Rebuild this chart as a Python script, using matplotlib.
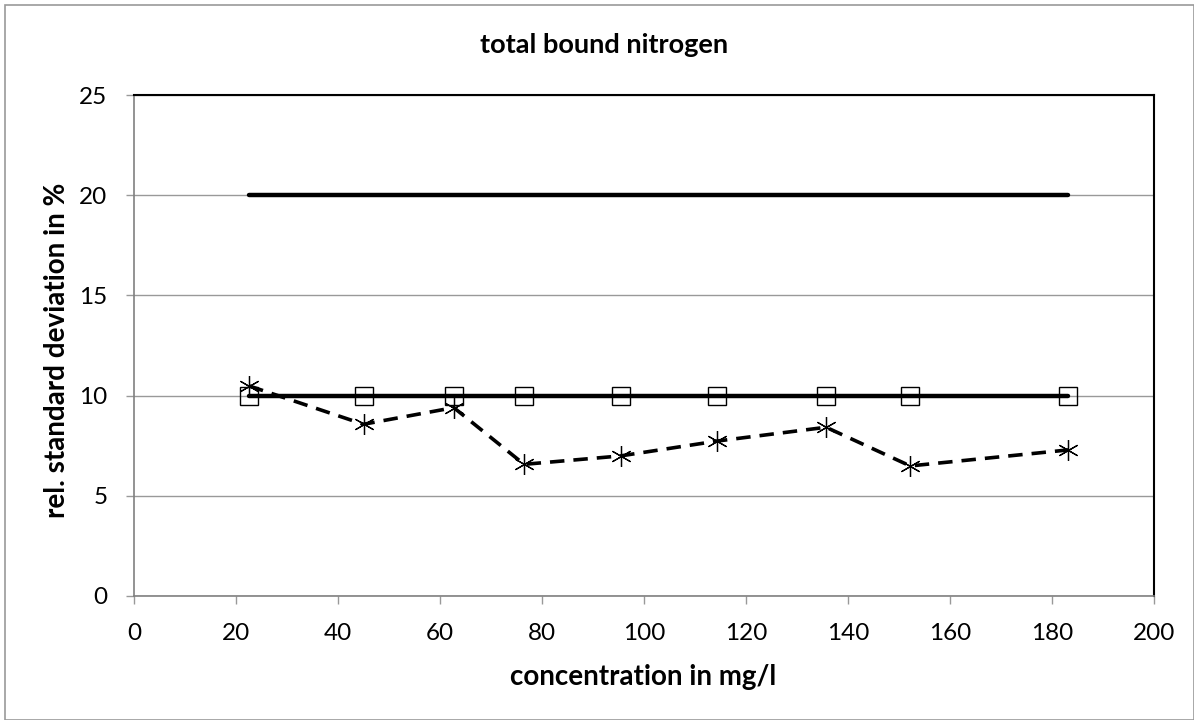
import matplotlib
matplotlib.use("Agg")
import matplotlib.pyplot as plt
from matplotlib.patches import Rectangle

conc = [22.6, 45.0, 62.7, 76.5, 95.4, 114.3, 135.7, 152.2, 183.2]
rsd_measured = [10.48, 8.57, 9.4, 6.57, 6.99, 7.73, 8.42, 6.49, 7.29]
rsd_target = [10, 10, 10, 10, 10, 10, 10, 10, 10]
limit_x = [22.6, 183.2]
limit_y = [20, 20]

plt.rcParams['font.family'] = ['Lato', 'DejaVu Sans']

W, H = 1194, 720
fig = plt.figure(figsize=(W / 100, H / 100), dpi=100)
ax = fig.add_axes([134 / W, 1 - 596 / H, (1154 - 134) / W, (596 - 95) / H])

ax.set_xlim(0, 200)
ax.set_ylim(0, 25)
ax.set_xticks(range(0, 201, 20))
ax.set_yticks(range(0, 26, 5))
ax.yaxis.grid(True, color='#999999', linewidth=1)
ax.set_axisbelow(True)

ax.plot(limit_x, limit_y, color='black', linewidth=3.2, solid_capstyle='round', zorder=3)
ax.plot(conc, rsd_target, color='black', linewidth=3.2, solid_capstyle='round',
        marker='s', markersize=13, markerfacecolor='none', markeredgecolor='black',
        markeredgewidth=1.0, zorder=4)
ax.plot(conc, rsd_measured, color='black', linewidth=2.6, linestyle=(0, (4, 2.5)),
        marker=(6, 2, 0), markersize=15, markeredgewidth=0.9, markeredgecolor='black',
        zorder=5)

for s in ['left', 'bottom']:
    ax.spines[s].set_color('#808080')
    ax.spines[s].set_linewidth(1.2)
for s in ['top', 'right']:
    ax.spines[s].set_color('black')
    ax.spines[s].set_linewidth(1.5)

ax.tick_params(axis='both', direction='out', length=6, color='#999999', width=1,
               labelsize=17.5)
ax.tick_params(axis='x', pad=13.5)
ax.tick_params(axis='y', pad=13)

fig.text(643 / W, 1 - 677 / H, 'concentration in mg/l', fontsize=20, fontweight='bold',
         ha='center', va='center')
fig.text(57 / W, 1 - 350 / H, 'rel. standard deviation in %', fontsize=20, fontweight='bold',
         ha='center', va='center', rotation=90)
fig.text(604 / W, 1 - 45 / H, 'total bound nitrogen', fontsize=19.5, fontweight='bold',
         ha='center', va='center')

fig.patches.append(Rectangle((5 / W, 0), 1 - 5 / W, 1 - 5 / H, transform=fig.transFigure,
                             fill=False, edgecolor='#999999', linewidth=1.2))

fig.savefig('out.png', dpi=100)
